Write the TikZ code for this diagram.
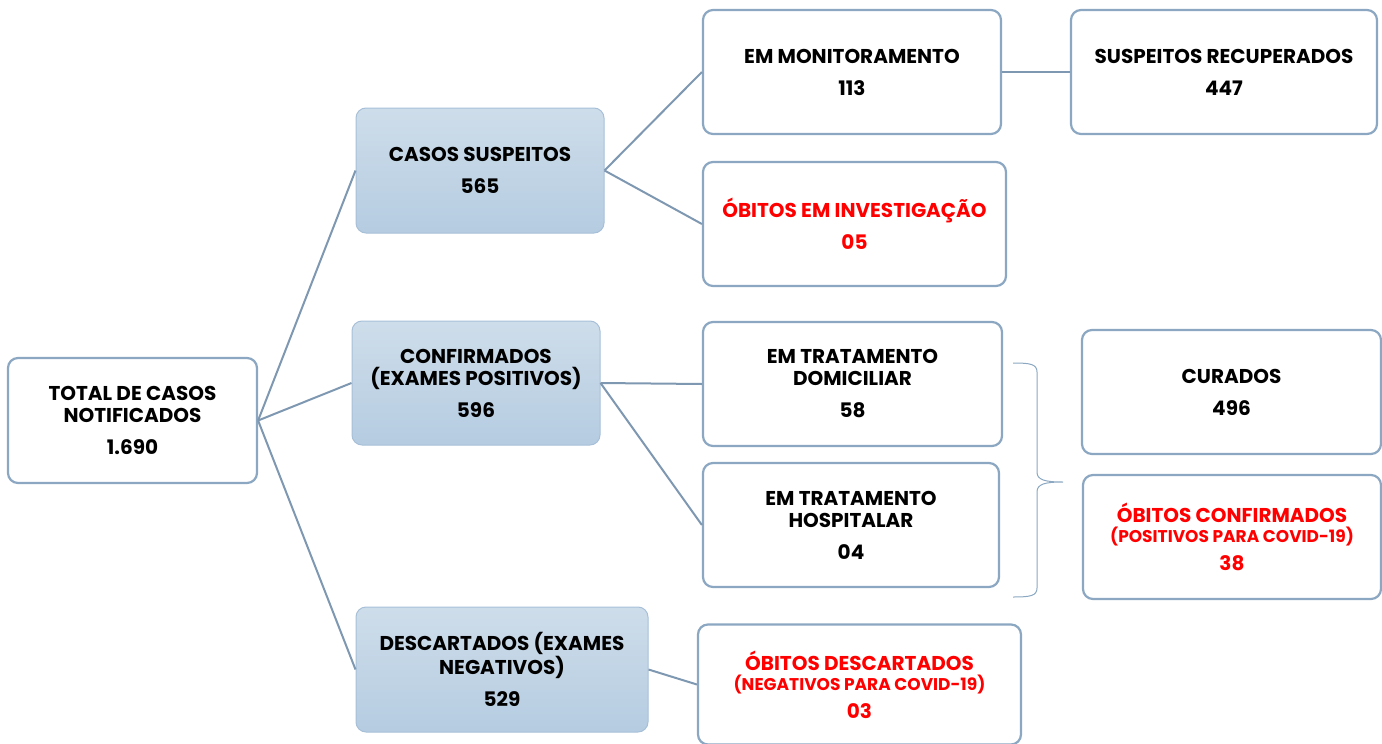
\documentclass[tikz,border=0pt]{standalone}
\usepackage{fontspec}
\setmainfont{Poppins}
\definecolor{edgec}{HTML}{7F98B2}
\definecolor{boxc}{HTML}{8BA7C2}
\definecolor{gboxc}{HTML}{A7C0D8}
\definecolor{gtop}{HTML}{CEDDEA}
\definecolor{gbot}{HTML}{B5CCE1}
\definecolor{redt}{HTML}{FF0000}
\tikzset{
  wbox/.style={draw=boxc, line width=2.2pt, rounded corners=10pt, fill=white, align=center,
    font=\fontsize{20}{22}\selectfont\bfseries, inner sep=0pt},
  gbox/.style={draw=gboxc, line width=1pt, rounded corners=10pt, top color=gtop, bottom color=gbot, align=center,
    font=\fontsize{20}{22}\selectfont\bfseries, inner sep=0pt},
  redtxt/.style={text=redt},
  conn/.style={draw=edgec, line width=2pt}
}
\newcommand{\subln}[1]{{\fontsize{17}{20}\selectfont #1}}
\begin{document}
\begin{tikzpicture}[x=1pt,y=-1pt]
\useasboundingbox (0,0) rectangle (1382,744);
% nodes
\node[wbox, minimum width=249pt, minimum height=125pt] (tot) at (132.5,420.5) {TOTAL DE CASOS\\NOTIFICADOS\\[10pt]1.690};
\node[gbox, minimum width=248pt, minimum height=125pt] (cs) at (480,170.5) {CASOS SUSPEITOS\\[10pt]565};
\node[gbox, minimum width=248pt, minimum height=124pt] (cf) at (476,383) {CONFIRMADOS\\(EXAMES POSITIVOS)\\[10pt]596};
\node[gbox, minimum width=292pt, minimum height=125pt] (ds) at (502,669.5) {DESCARTADOS (EXAMES\\NEGATIVOS)\\[10pt]529};
\node[wbox, minimum width=298pt, minimum height=124pt] (mon) at (852,72) {EM MONITORAMENTO\\[10pt]113};
\node[wbox, redtxt, minimum width=303pt, minimum height=124pt] (inv) at (854.5,224) {ÓBITOS EM INVESTIGAÇÃO\\[10pt]05};
\node[wbox, minimum width=299pt, minimum height=124pt] (dom) at (852.5,384) {EM TRATAMENTO\\DOMICILIAR\\[10pt]58};
\node[wbox, minimum width=296pt, minimum height=124pt] (hos) at (851,525) {EM TRATAMENTO\\HOSPITALAR\\[10pt]04};
\node[wbox, redtxt, minimum width=323pt, minimum height=120pt] (odc) at (859.5,684.5) {ÓBITOS DESCARTADOS\\[-2pt]\subln{(NEGATIVOS PARA COVID-19)}\\[6pt]03};
\node[wbox, minimum width=306pt, minimum height=124pt] (rec) at (1224,72) {SUSPEITOS RECUPERADOS\\[10pt]447};
\node[wbox, minimum width=299pt, minimum height=124pt] (cur) at (1231.5,392) {CURADOS\\[10pt]496};
\node[wbox, redtxt, minimum width=298pt, minimum height=124pt] (ocf) at (1232,537) {ÓBITOS CONFIRMADOS\\[-2pt]\subln{(POSITIVOS PARA COVID-19)}\\[6pt]38};
% connectors
\draw[conn] (tot.east) -- (cs.west);
\draw[conn] (tot.east) -- (cf.west);
\draw[conn] (tot.east) -- (ds.west);
\draw[conn] (cs.east) -- (mon.west);
\draw[conn] (cs.east) -- (inv.west);
\draw[conn] (cf.east) -- (dom.west);
\draw[conn] (cf.east) -- (hos.west);
\draw[conn] (ds.east) -- (odc.west);
\draw[conn] (mon.east) -- (rec.west);
% brace
\coordinate (b1) at (1013,363);
\coordinate (b2) at (1013,597);
\coordinate (bt) at (1063,482);
\draw[boxc, line width=1pt] (b1) .. controls (1030,363) and (1037,364) .. (1037,372)
  -- (1037,472) .. controls (1037,480) and (1045,482) .. (bt)
  (bt) .. controls (1045,482) and (1037,484) .. (1037,492)
  -- (1037,588) .. controls (1037,596) and (1030,597) .. (b2);
\end{tikzpicture}
\end{document}
